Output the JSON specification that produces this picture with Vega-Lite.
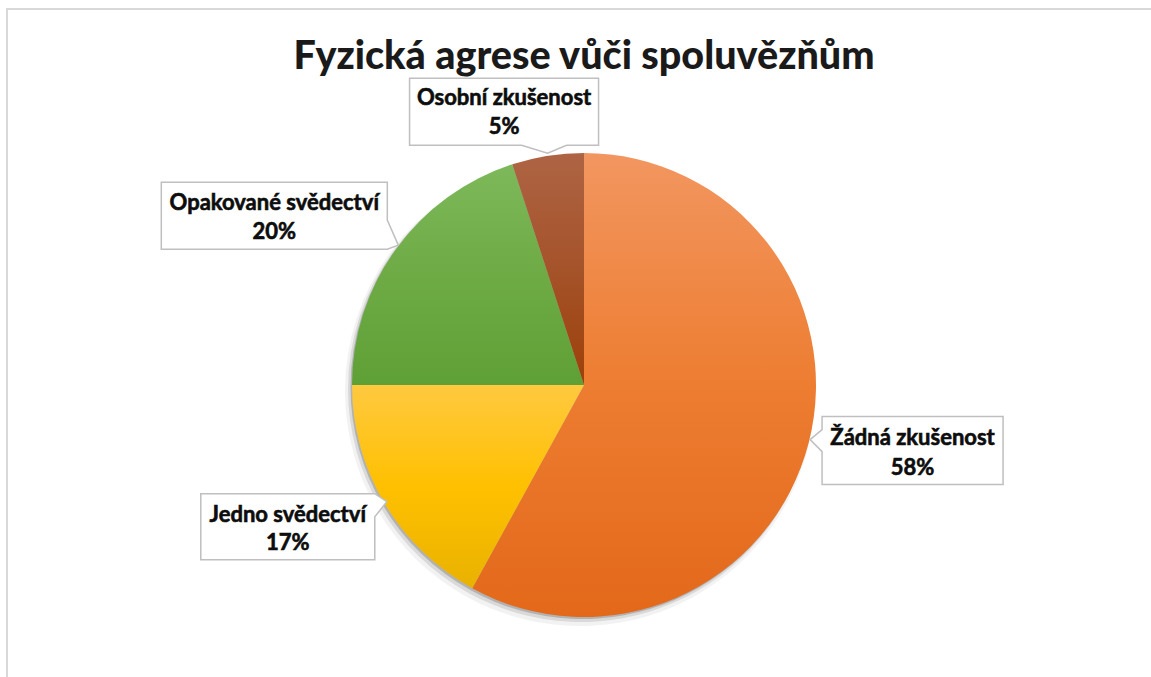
{
  "$schema": "https://vega.github.io/schema/vega-lite/v6.json",
  "autosize": "none",
  "width": 1154,
  "height": 752,
  "padding": {"left": 7, "top": 9, "right": 0, "bottom": 0},
  "background": "white",
  "config": {"view": {"stroke": "#D9D9D9", "strokeWidth": 2}},
  "title": {
    "text": "Fyzická agrese vůči spoluvězňům",
    "font": "Lato",
    "fontSize": 39.5,
    "fontWeight": 900,
    "color": "#1A1A1A",
    "anchor": "middle",
    "baseline": "alphabetic",
    "offset": -61,
    "dy": 38
  },
  "data": {
    "values": [
      {"category": "Žádná zkušenost", "share": 0.58, "order": 1},
      {"category": "Jedno svědectví", "share": 0.17, "order": 2},
      {"category": "Opakované svědectví", "share": 0.20, "order": 3},
      {"category": "Osobní zkušenost", "share": 0.05, "order": 4}
    ]
  },
  "transform": [
    {"joinaggregate": [{"op": "sum", "field": "share", "as": "total"}]},
    {"window": [{"op": "sum", "field": "share", "as": "cum"}], "sort": [{"field": "order"}], "frame": [null, 0]},
    {"calculate": "(datum.cum - datum.share)/datum.total", "as": "startFrac"},
    {"calculate": "datum.cum/datum.total", "as": "endFrac"},
    {"calculate": "2*PI*(datum.cum - datum.share/2)/datum.total", "as": "mid"},
    {"calculate": "300*sin(datum.mid)", "as": "lx"},
    {"calculate": "-300*cos(datum.mid)", "as": "ly"}
  ],
  "layer": [
    {
      "mark": {"type": "arc", "outerRadius": 235, "fill": "#000000", "opacity": 0.05, "xOffset": -4, "yOffset": 6},
      "encoding": {"theta": {"field": "startFrac", "type": "quantitative", "scale": {"domain": [0, 1]}}, "theta2": {"field": "endFrac"}}
    },
    {
      "mark": {"type": "arc", "outerRadius": 233, "fill": "#000000", "opacity": 0.1, "xOffset": -3, "yOffset": 4},
      "encoding": {"theta": {"field": "startFrac", "type": "quantitative", "scale": {"domain": [0, 1]}}, "theta2": {"field": "endFrac"}}
    },
    {
      "mark": {"type": "arc", "outerRadius": 232, "fill": "#000000", "opacity": 0.18, "xOffset": -1.5, "yOffset": 2},
      "encoding": {"theta": {"field": "startFrac", "type": "quantitative", "scale": {"domain": [0, 1]}}, "theta2": {"field": "endFrac"}}
    },
    {
      "transform": [{"filter": "datum.category === 'Žádná zkušenost'"}],
      "mark": {"type": "arc", "outerRadius": 232, "fill": {"gradient": "linear", "x1": 0, "y1": 0, "x2": 0, "y2": 1, "stops": [{"offset": 0, "color": "#F29660"}, {"offset": 0.5, "color": "#ED7D31"}, {"offset": 1, "color": "#E3681A"}]}},
      "encoding": {"theta": {"field": "startFrac", "type": "quantitative", "scale": {"domain": [0, 1]}}, "theta2": {"field": "endFrac"}}
    },
    {
      "transform": [{"filter": "datum.category === 'Jedno svědectví'"}],
      "mark": {"type": "arc", "outerRadius": 232, "fill": {"gradient": "linear", "x1": 0, "y1": 0, "x2": 0, "y2": 1, "stops": [{"offset": 0, "color": "#FFC940"}, {"offset": 0.5, "color": "#FFC000"}, {"offset": 1, "color": "#E9B200"}]}},
      "encoding": {"theta": {"field": "startFrac", "type": "quantitative", "scale": {"domain": [0, 1]}}, "theta2": {"field": "endFrac"}}
    },
    {
      "transform": [{"filter": "datum.category === 'Opakované svědectví'"}],
      "mark": {"type": "arc", "outerRadius": 232, "fill": {"gradient": "linear", "x1": 0, "y1": 0, "x2": 0, "y2": 1, "stops": [{"offset": 0, "color": "#7DB95A"}, {"offset": 0.5, "color": "#6EAB45"}, {"offset": 1, "color": "#5FA036"}]}},
      "encoding": {"theta": {"field": "startFrac", "type": "quantitative", "scale": {"domain": [0, 1]}}, "theta2": {"field": "endFrac"}}
    },
    {
      "transform": [{"filter": "datum.category === 'Osobní zkušenost'"}],
      "mark": {"type": "arc", "outerRadius": 232, "fill": {"gradient": "linear", "x1": 0, "y1": 0, "x2": 0, "y2": 1, "stops": [{"offset": 0, "color": "#AE6444"}, {"offset": 0.5, "color": "#A5532A"}, {"offset": 1, "color": "#9C4009"}]}},
      "encoding": {"theta": {"field": "startFrac", "type": "quantitative", "scale": {"domain": [0, 1]}}, "theta2": {"field": "endFrac"}}
    },
    {
      "transform": [{"filter": "datum.category === 'Osobní zkušenost'"}],
      "encoding": {
        "x": {"field": "lx", "type": "quantitative", "scale": {"domain": [-577, 577], "nice": false, "zero": false}, "axis": null},
        "y": {"field": "ly", "type": "quantitative", "scale": {"domain": [-376, 376], "nice": false, "zero": false, "reverse": true}, "axis": null}
      },
      "layer": [
        {"mark": {"type": "point", "shape": "M-94.5,-33.5H94.5V33.5H62.5L43.5,41.5L17.5,33.5H-94.5Z", "size": 4, "filled": true, "fill": "white", "stroke": "#BFBFBF", "strokeWidth": 1.5, "opacity": 1, "xOffset": -33, "yOffset": 23}},
        {"mark": {"type": "text", "font": "Lato", "fontSize": 22, "fontWeight": "bold", "color": "#0D0D0D", "stroke": "#0D0D0D", "strokeWidth": 0.6, "baseline": "middle", "xOffset": -33, "yOffset": 9.5}, "encoding": {"text": {"field": "category"}}},
        {"mark": {"type": "text", "font": "Lato", "fontSize": 22, "fontWeight": "bold", "color": "#0D0D0D", "stroke": "#0D0D0D", "strokeWidth": 0.6, "baseline": "middle", "xOffset": -33, "yOffset": 38.5}, "encoding": {"text": {"field": "share", "type": "quantitative", "format": ".0%"}}}
      ]
    },
    {
      "transform": [{"filter": "datum.category === 'Opakované svědectví'"}],
      "encoding": {
        "x": {"field": "lx", "type": "quantitative", "scale": {"domain": [-577, 577], "nice": false, "zero": false}, "axis": null},
        "y": {"field": "ly", "type": "quantitative", "scale": {"domain": [-376, 376], "nice": false, "zero": false, "reverse": true}, "axis": null}
      },
      "layer": [
        {"mark": {"type": "point", "shape": "M-113,-33.5H113V4.5L124,29.5L113,33.5H-113Z", "size": 4, "filled": true, "fill": "white", "stroke": "#BFBFBF", "strokeWidth": 1.5, "opacity": 1, "xOffset": -67, "yOffset": 7}},
        {"mark": {"type": "text", "font": "Lato", "fontSize": 22, "fontWeight": "bold", "color": "#0D0D0D", "stroke": "#0D0D0D", "strokeWidth": 0.6, "baseline": "middle", "xOffset": -67, "yOffset": -5.5}, "encoding": {"text": {"field": "category"}}},
        {"mark": {"type": "text", "font": "Lato", "fontSize": 22, "fontWeight": "bold", "color": "#0D0D0D", "stroke": "#0D0D0D", "strokeWidth": 0.6, "baseline": "middle", "xOffset": -67, "yOffset": 23.5}, "encoding": {"text": {"field": "share", "type": "quantitative", "format": ".0%"}}}
      ]
    },
    {
      "transform": [{"filter": "datum.category === 'Jedno svědectví'"}],
      "encoding": {
        "x": {"field": "lx", "type": "quantitative", "scale": {"domain": [-577, 577], "nice": false, "zero": false}, "axis": null},
        "y": {"field": "ly", "type": "quantitative", "scale": {"domain": [-376, 376], "nice": false, "zero": false, "reverse": true}, "axis": null}
      },
      "layer": [
        {"mark": {"type": "point", "shape": "M-87,-33H87L99,-25L87,-10V33H-87Z", "size": 4, "filled": true, "fill": "white", "stroke": "#BFBFBF", "strokeWidth": 1.5, "opacity": 1, "xOffset": -38, "yOffset": -11}},
        {"mark": {"type": "text", "font": "Lato", "fontSize": 22, "fontWeight": "bold", "color": "#0D0D0D", "stroke": "#0D0D0D", "strokeWidth": 0.6, "baseline": "middle", "xOffset": -38, "yOffset": -23}, "encoding": {"text": {"field": "category"}}},
        {"mark": {"type": "text", "font": "Lato", "fontSize": 22, "fontWeight": "bold", "color": "#0D0D0D", "stroke": "#0D0D0D", "strokeWidth": 0.6, "baseline": "middle", "xOffset": -38, "yOffset": 5}, "encoding": {"text": {"field": "share", "type": "quantitative", "format": ".0%"}}}
      ]
    },
    {
      "transform": [{"filter": "datum.category === 'Žádná zkušenost'"}],
      "encoding": {
        "x": {"field": "lx", "type": "quantitative", "scale": {"domain": [-577, 577], "nice": false, "zero": false}, "axis": null},
        "y": {"field": "ly", "type": "quantitative", "scale": {"domain": [-376, 376], "nice": false, "zero": false, "reverse": true}, "axis": null}
      },
      "layer": [
        {"mark": {"type": "point", "shape": "M-90.5,-34H90.5V34H-90.5V1L-102.5,-11L-90.5,-21Z", "size": 4, "filled": true, "fill": "white", "stroke": "#BFBFBF", "strokeWidth": 1.5, "opacity": 1, "xOffset": 38, "yOffset": -9}},
        {"mark": {"type": "text", "font": "Lato", "fontSize": 22, "fontWeight": "bold", "color": "#0D0D0D", "stroke": "#0D0D0D", "strokeWidth": 0.6, "baseline": "middle", "xOffset": 38, "yOffset": -22}, "encoding": {"text": {"field": "category"}}},
        {"mark": {"type": "text", "font": "Lato", "fontSize": 22, "fontWeight": "bold", "color": "#0D0D0D", "stroke": "#0D0D0D", "strokeWidth": 0.6, "baseline": "middle", "xOffset": 38, "yOffset": 8}, "encoding": {"text": {"field": "share", "type": "quantitative", "format": ".0%"}}}
      ]
    }
  ]
}
